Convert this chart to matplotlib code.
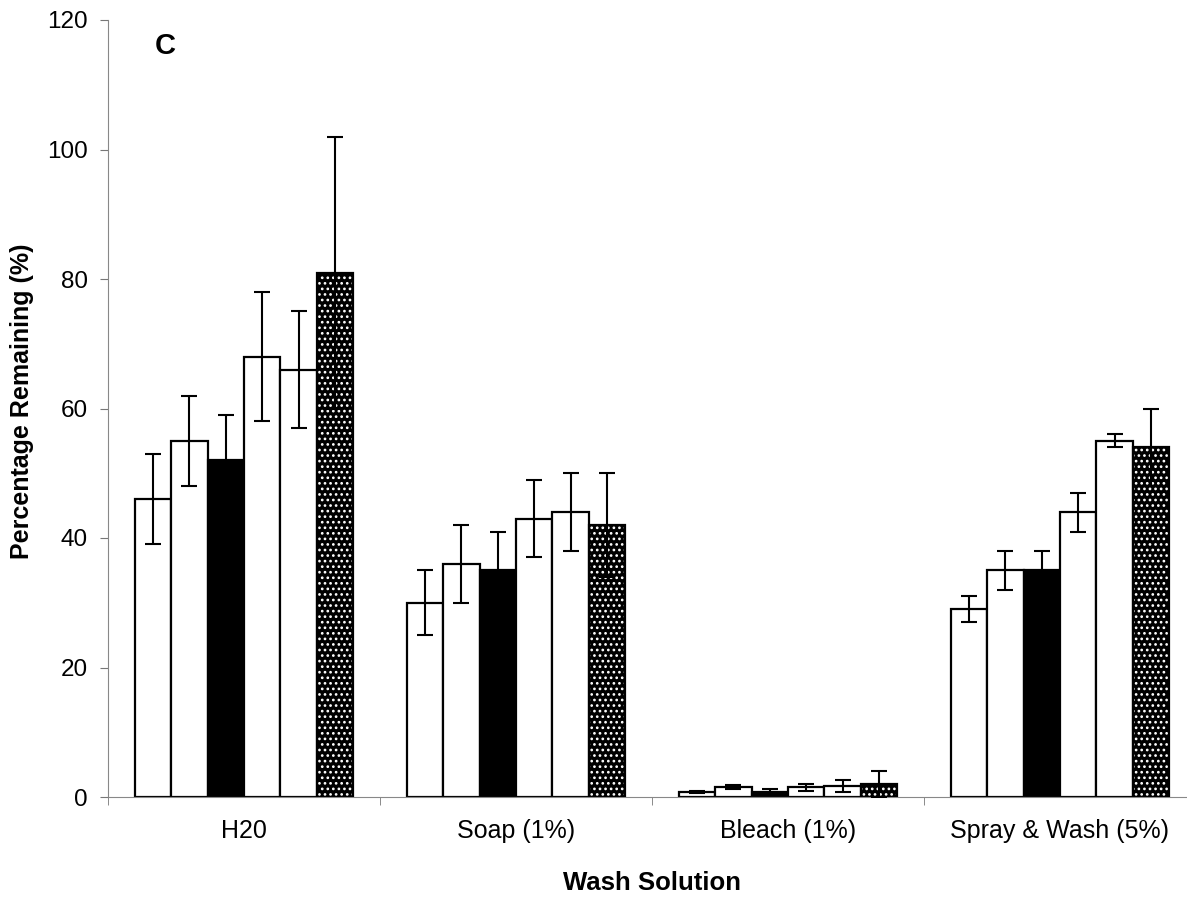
import matplotlib
matplotlib.use('Agg')
import matplotlib.pyplot as plt
import numpy as np

plt.rcParams['font.family'] = ['Liberation Sans', 'DejaVu Sans']
plt.rcParams['hatch.linewidth'] = 1.15

categories = ['H20', 'Soap (1%)', 'Bleach (1%)', 'Spray & Wash (5%)']

# six treatments per wash solution (left to right within each group)
values = [
    [46, 30, 0.8, 29],
    [55, 36, 1.5, 35],
    [52, 35, 0.8, 35],
    [68, 43, 1.5, 44],
    [66, 44, 1.7, 55],
    [81, 42, 2.0, 54],
]
errors = [
    [7, 5, 0.2, 2],
    [7, 6, 0.3, 3],
    [7, 6, 0.4, 3],
    [10, 6, 0.5, 3],
    [9, 6, 1.0, 1],
    [21, 8, 2.0, 6],
]
faces = ['white', 'white', 'black', 'white', 'white', 'black']
hatches = [None, None, None, None, None, '...']

fig = plt.figure(figsize=(11.87, 8.99), dpi=100)
ax = fig.add_axes([108 / 1187, 1 - 797 / 899, 1088 / 1187, 777 / 899])

x = np.arange(len(categories))
width = 0.1336

for i in range(6):
    pos = x + (i - 2.5) * width
    if hatches[i]:
        # dotted fill: white dots on black, border drawn separately
        ax.bar(pos, values[i], width, color=faces[i], edgecolor='white',
               hatch=hatches[i], linewidth=0, zorder=2)
        ax.bar(pos, values[i], width, fill=False, edgecolor='black',
               linewidth=1.6, zorder=3)
    else:
        ax.bar(pos, values[i], width, color=faces[i], edgecolor='black',
               linewidth=1.6, zorder=2)
    ax.errorbar(pos, values[i], yerr=errors[i], fmt='none', ecolor='black',
                elinewidth=1.5, capsize=6, capthick=1.5, zorder=4)

ax.set_xlim(-0.5, 3.5)
ax.set_ylim(0, 120)
ax.set_yticks(range(0, 121, 20))
ax.set_xticks(x)
ax.set_xticklabels(categories)
ax.set_xticks(np.arange(-0.5, 4, 1), minor=True)
ax.tick_params(axis='x', which='major', length=0, pad=16, labelsize=18)
ax.tick_params(axis='x', which='minor', length=6, color='#777777')
ax.tick_params(axis='y', length=6, color='#777777', labelsize=17.5, pad=8.5)

for side in ['top', 'right']:
    ax.spines[side].set_visible(False)
ax.spines['left'].set_color('#888888')
ax.spines['bottom'].set_color('#888888')

ax.set_xlabel('Wash Solution', fontsize=18.5, fontweight='bold')
ax.xaxis.set_label_coords(0.5, (797 - 871) / 777)
ax.set_ylabel('Percentage Remaining (%)', fontsize=18, fontweight='bold')
ax.yaxis.set_label_coords((34 - 108) / 1088, (797 - 401) / 777)

ax.text(0.0432, 0.9846, 'C', transform=ax.transAxes, fontsize=21,
        fontweight='bold', va='top')

fig.savefig('out.png', dpi=100)
